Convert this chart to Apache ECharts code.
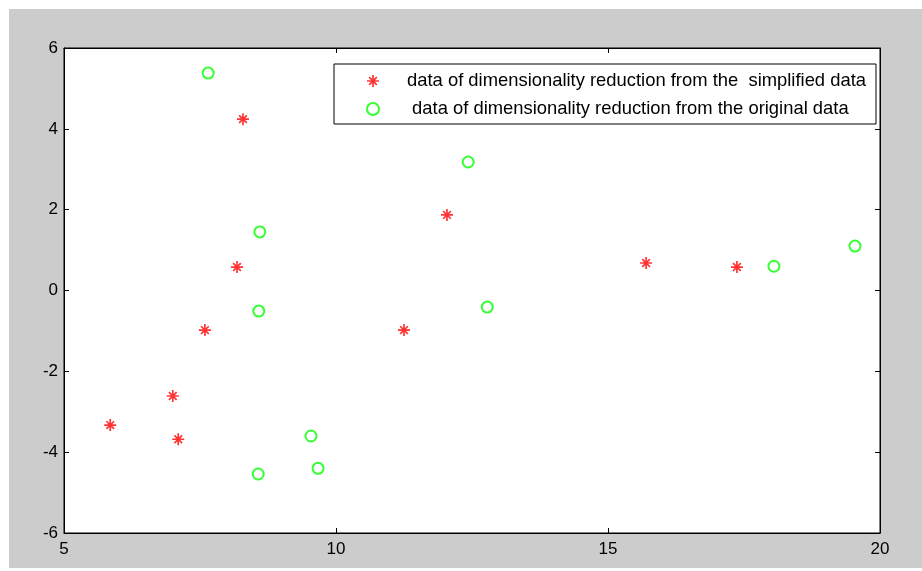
<!DOCTYPE html>
<html>
<head>
<meta charset="utf-8">
<script src="https://cdn.jsdelivr.net/npm/echarts@6/dist/echarts.min.js"></script>
<style>
   body { margin: 0; background: #fff; }
   #main { position: absolute; left: 9px; top: 9px; width: 913px; height: 559px; }
</style>
</head>
<body>
<div id="main"></div>
<script>
// 降维后的数据（简化数据）
var simplifiedX = [5.85, 7.0, 7.1, 7.59, 8.18, 8.29, 11.25, 12.04, 15.70, 17.37];
var simplifiedY = [-3.33, -2.61, -3.68, -0.98, 0.58, 4.24, -0.98, 1.87, 0.68, 0.58];
// 降维后的数据（原始数据）
var originalX = [7.65, 8.60, 8.58, 8.57, 9.54, 9.67, 12.43, 12.78, 18.05, 19.54];
var originalY = [5.38, 1.45, -0.51, -4.54, -3.60, -4.40, 3.18, -0.41, 0.60, 1.10];

var seriesNames = ['data of dimensionality reduction from the  simplified data',
   ' data of dimensionality reduction from the original data'];

var xTicks = [5, 10, 15, 20];
var yTicks = [-6, -4, -2, 0, 2, 4, 6];

function pairs(xs, ys) {
   var arr = [];
   for (var i = 0; i < xs.length; i++) {
      arr.push([xs[i], ys[i]]);
   }
   return arr;
}

// 星号 (*) 标记
var starPath = 'path://M0,4.3L10,4.3L10,5.7L0,5.7Z' +
   'M4.3,0L5.7,0L5.7,10L4.3,10Z' +
   'M2.3,1.3L8.7,7.7L7.7,8.7L1.3,2.3Z' +
   'M7.7,1.3L8.7,2.3L2.3,8.7L1.3,7.7Z';

var labelFont = {
   color: '#000',
   fontFamily: 'Liberation Sans Narrow, Liberation Sans, Arial, sans-serif',
   fontSize: 17
};

function axisCommon(extra) {
   var a = {
      type: 'value',
      splitLine: { show: false },
      axisLine: { onZero: false, lineStyle: { color: '#000' } },
      axisTick: { inside: true, length: 5, lineStyle: { color: '#000' } }
   };
   for (var k in extra) a[k] = extra[k];
   return a;
}

var chart = echarts.init(document.getElementById('main'));
var opt = {
   backgroundColor: '#cccccc',
   animation: false,
   grid: {
      show: true,
      left: 55,
      right: 42,
      top: 39,
      bottom: 35,
      backgroundColor: '#fff',
      borderColor: '#000',
      borderWidth: 1
   },
   legend: {
      orient: 'vertical',
      left: 325,
      top: 55,
      padding: [8, 10, 6, 32],
      itemWidth: 58,
      itemHeight: 12,
      itemGap: 10,
      backgroundColor: '#fff',
      borderColor: '#000',
      borderWidth: 1,
      textStyle: {
         color: '#000',
         fontFamily: 'Liberation Sans, Arial, sans-serif',
         fontSize: 18.4
      },
      data: seriesNames
   },
   xAxis: [
      axisCommon({
         min: xTicks[0], max: xTicks[xTicks.length - 1], interval: 5,
         axisLabel: Object.assign({ margin: 8 }, labelFont)
      }),
      axisCommon({
         position: 'top',
         min: xTicks[0], max: xTicks[xTicks.length - 1], interval: 5,
         axisLabel: { show: false }
      })
   ],
   yAxis: [
      axisCommon({
         min: yTicks[0], max: yTicks[yTicks.length - 1], interval: 2,
         axisLabel: Object.assign({ margin: 6 }, labelFont)
      }),
      axisCommon({
         position: 'right',
         min: yTicks[0], max: yTicks[yTicks.length - 1], interval: 2,
         axisLabel: { show: false }
      })
   ],
   series: [{
      name: seriesNames[0],
      type: 'scatter',
      symbol: starPath,
      symbolSize: 12,
      itemStyle: { color: '#ff0000' },
      data: pairs(simplifiedX, simplifiedY)
   }, {
      name: seriesNames[1],
      type: 'scatter',
      symbol: 'emptyCircle',
      symbolSize: 11,
      itemStyle: { color: '#00ff00', borderColor: '#00ff00', borderWidth: 1.5 },
      data: pairs(originalX, originalY)
   }]
};
chart.setOption(opt);
</script>
</body>
</html>
